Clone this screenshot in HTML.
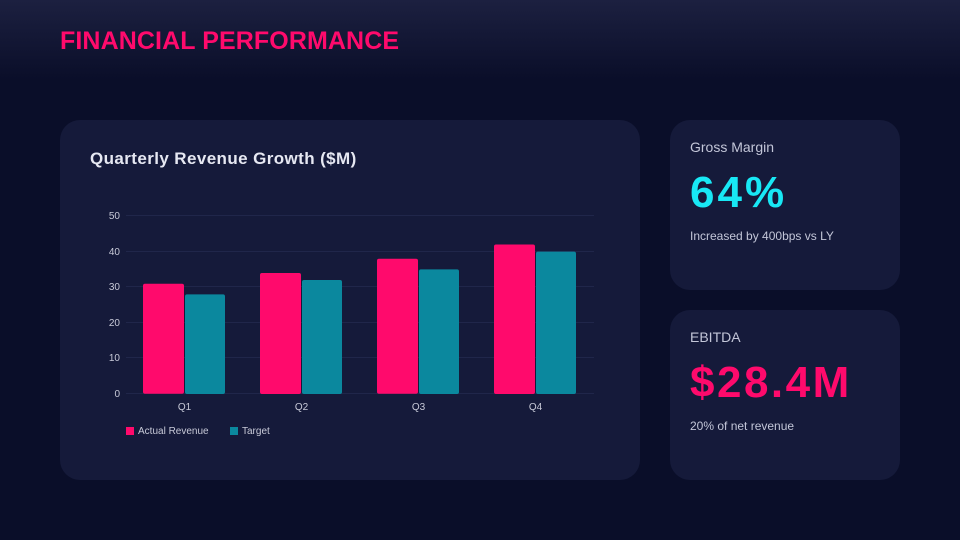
<!DOCTYPE html><html><head><style>
body{margin:0;width:960px;height:540px;background:#0a0e29;font-family:"Liberation Sans",sans-serif;position:relative;overflow:hidden}
.hdr{position:absolute;left:0;top:0;width:960px;height:80px;background:linear-gradient(#1c2040,#0a0e29)}
h1{position:absolute;left:60px;top:27px;margin:0;font-size:25px;font-weight:bold;color:#ff0a6c;letter-spacing:0.1px}
.card{position:absolute;background:#151a3a;border-radius:20px}
.t{position:absolute;color:#c3c6d8;font-size:14px}
</style></head><body>
<div class="hdr"></div>
<h1>FINANCIAL PERFORMANCE</h1>
<div class="card" style="left:60px;top:120px;width:580px;height:360px"></div>
<div class="t" style="left:90px;top:149px;font-size:17px;font-weight:bold;letter-spacing:0.4px;color:#e6e8f2">Quarterly Revenue Growth ($M)</div>
<svg style="position:absolute;left:0;top:0" width="960" height="540" font-family="Liberation Sans" font-size="10" fill="#c8cad8">
<g stroke="#20264a" stroke-width="1">
<line x1="126" x2="594" y1="215.5" y2="215.5"/><line x1="126" x2="594" y1="251.5" y2="251.5"/><line x1="126" x2="594" y1="286.5" y2="286.5"/><line x1="126" x2="594" y1="322.5" y2="322.5"/><line x1="126" x2="594" y1="357.5" y2="357.5"/><line x1="126" x2="594" y1="393.5" y2="393.5"/>
</g>
<g text-anchor="end"><text x="120" y="219">50</text><text x="120" y="255">40</text><text x="120" y="290">30</text><text x="120" y="326">20</text><text x="120" y="361">10</text><text x="120" y="397">0</text></g>
<g fill="#ff0a6c">
<rect x="143" y="283.7" width="41" height="110" rx="2"/><rect x="260" y="273" width="41" height="121" rx="2"/><rect x="377" y="258.8" width="41" height="135" rx="2"/><rect x="494" y="244.5" width="41" height="149.5" rx="2"/>
</g>
<g fill="#0b889e">
<rect x="185" y="294.4" width="40" height="99.6" rx="2"/><rect x="302" y="280" width="40" height="114" rx="2"/><rect x="419" y="269.4" width="40" height="124.6" rx="2"/><rect x="536" y="251.6" width="40" height="142.4" rx="2"/>
</g>
<g text-anchor="middle"><text x="184.5" y="410">Q1</text><text x="301.5" y="410">Q2</text><text x="418.5" y="410">Q3</text><text x="535.5" y="410">Q4</text></g>
<rect x="126" y="427" width="8" height="8" fill="#ff0a6c"/><text x="138" y="434">Actual Revenue</text>
<rect x="230" y="427" width="8" height="8" fill="#0b889e"/><text x="242" y="434">Target</text>
</svg>
<div class="card" style="left:670px;top:120px;width:230px;height:170px"></div>
<div class="t" style="left:690px;top:139px">Gross Margin</div>
<div class="t" style="left:690px;top:168px;font-size:44px;font-weight:bold;color:#18e8f5;letter-spacing:3px">64%</div>
<div class="t" style="left:690px;top:229px;font-size:12px">Increased by 400bps vs LY</div>
<div class="card" style="left:670px;top:310px;width:230px;height:170px"></div>
<div class="t" style="left:690px;top:329px">EBITDA</div>
<div class="t" style="left:690px;top:358px;font-size:44px;font-weight:bold;color:#ff0a6c;letter-spacing:2.5px">$28.4M</div>
<div class="t" style="left:690px;top:419px;font-size:12px">20% of net revenue</div>
</body></html>
